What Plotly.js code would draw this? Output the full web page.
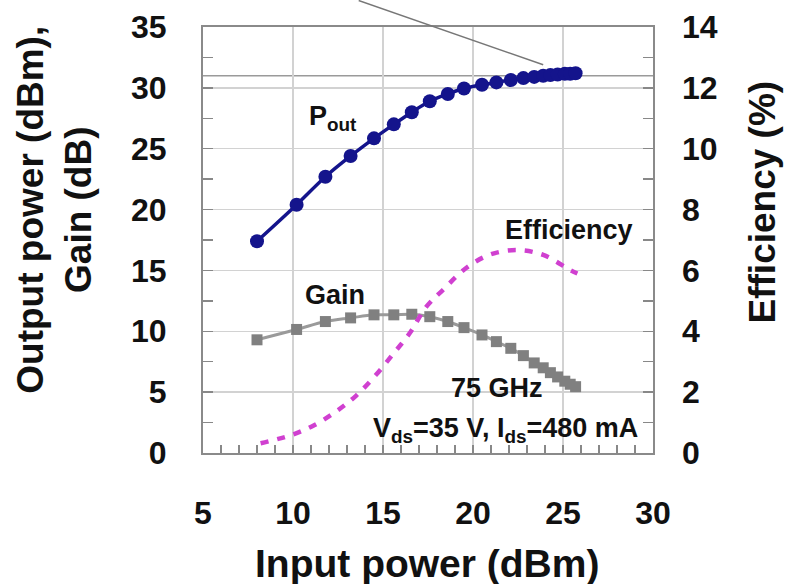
<!DOCTYPE html>
<html>
<head>
<meta charset="utf-8">
<script src="https://cdn.plot.ly/plotly-3.0.1.min.js"></script>
<style>html,body{margin:0;padding:0;background:#fff;}#chart{width:790px;height:584px;}</style>
</head>
<body>
<div id="chart"></div>
<script>
// Input power (dBm) for Pout and Gain
const pinX = [8.0, 10.2, 11.8, 13.2, 14.5, 15.6, 16.6, 17.6, 18.6, 19.5, 20.5, 21.3, 22.1, 22.8, 23.4, 23.9, 24.3, 24.7, 25.1, 25.4, 25.7];
// Output power (dBm)
const poutY = [17.4, 20.4, 22.7, 24.4, 25.85, 27.0, 28.0, 28.9, 29.5, 29.95, 30.25, 30.45, 30.65, 30.8, 30.9, 31.0, 31.05, 31.1, 31.15, 31.15, 31.2];
// Gain (dB)
const gainY = [9.3, 10.15, 10.8, 11.1, 11.35, 11.35, 11.4, 11.2, 10.8, 10.3, 9.7, 9.15, 8.6, 8.0, 7.4, 7.0, 6.6, 6.25, 5.9, 5.65, 5.45];
// Efficiency (%)
const effX = [8.2, 9.9, 11.2, 12.5, 13.5, 14.6, 15.6, 16.5, 17.4, 18.4, 19.6, 20.9, 22.4, 23.9, 25.4, 25.8];
const effY = [0.32, 0.59, 0.92, 1.41, 1.88, 2.56, 3.28, 3.95, 4.8, 5.4, 6.07, 6.51, 6.67, 6.51, 6.01, 5.9];

const psatLevel = 31.0;
const xTicks = [5, 10, 15, 20, 25, 30];

const FONT = 'Liberation Sans, Arial, Helvetica, sans-serif';
const tickFont = {family: FONT, size: 32, color: '#111', weight: 'bold'};
const annFont = {family: FONT, size: 27, color: '#111', weight: 'bold'};

const traces = [
  {
    x: pinX, y: poutY, type: 'scatter', mode: 'lines+markers',
    line: {color: '#14148c', width: 3.5, shape: 'spline'},
    marker: {symbol: 'circle', size: 14, color: '#14148c'},
    yaxis: 'y', showlegend: false, cliponaxis: false
  },
  {
    x: pinX, y: gainY, type: 'scatter', mode: 'lines+markers',
    line: {color: '#9a9a9a', width: 3, shape: 'spline'},
    marker: {symbol: 'square', size: 11, color: '#808080'},
    yaxis: 'y', showlegend: false
  },
  {
    x: effX, y: effY, type: 'scatter', mode: 'lines',
    line: {color: '#d040d0', width: 4.5, dash: '8px,9px', shape: 'spline'},
    yaxis: 'y2', showlegend: false
  }
];

const layout = {
  width: 790, height: 584,
  margin: {l: 203, r: 137, t: 27, b: 131},
  paper_bgcolor: '#fff', plot_bgcolor: '#fff',
  showlegend: false,
  xaxis: {
    range: [5, 30], tickvals: xTicks, ticktext: xTicks.map(String),
    ticks: 'inside', ticklen: 8, tickwidth: 1.5, tickcolor: '#888',
    minor: {dtick: 1, ticks: 'inside', ticklen: 8, tickwidth: 1.5, tickcolor: '#888', showgrid: false},
    showgrid: true, gridcolor: '#d2d2d2', gridwidth: 1.5,
    showline: true, linecolor: '#8a8a8a', linewidth: 2, mirror: true,
    zeroline: false, tickfont: tickFont, ticklabelstandoff: 31
  },
  yaxis: {
    range: [0, 35], dtick: 5,
    ticks: 'inside', ticklen: 10, tickwidth: 1.5, tickcolor: '#888',
    minor: {dtick: 2.5, ticks: 'inside', ticklen: 10, tickwidth: 1.5, tickcolor: '#888', showgrid: false},
    showgrid: true, gridcolor: '#d2d2d2', gridwidth: 1.5,
    showline: true, linecolor: '#8a8a8a', linewidth: 2, mirror: true,
    zeroline: false, tickfont: tickFont, ticklabelstandoff: 28
  },
  yaxis2: {
    range: [0, 14], dtick: 2, overlaying: 'y', side: 'right',
    ticks: 'inside', ticklen: 10, tickwidth: 1.5, tickcolor: '#888',
    minor: {dtick: 1, ticks: 'inside', ticklen: 10, tickwidth: 1.5, tickcolor: '#888', showgrid: false},
    showgrid: false, showline: false, zeroline: false,
    tickfont: tickFont, ticklabelstandoff: 28
  },
  shapes: [
    {type: 'line', xref: 'paper', x0: 0, x1: 1, yref: 'y', y0: psatLevel, y1: psatLevel,
     line: {color: '#9a9a9a', width: 1.5}, layer: 'below'}
  ],
  annotations: [
    {xref: 'paper', yref: 'paper', x: -0.33, y: 0.57, text: 'Output power (dBm),<br>Gain (dB)',
     textangle: -90, showarrow: false, font: {family: FONT, size: 37, color: '#111', weight: 'bold'},
     xanchor: 'center', yanchor: 'middle'},
    {xref: 'paper', yref: 'paper', x: 1.244, y: 0.59, text: 'Efficiency (%)',
     textangle: -90, showarrow: false, font: {family: FONT, size: 37, color: '#111', weight: 'bold'},
     xanchor: 'center', yanchor: 'middle'},
    {xref: 'paper', yref: 'paper', x: 0.498, y: -0.26, text: 'Input power (dBm)',
     showarrow: false, font: {family: FONT, size: 39, color: '#111', weight: 'bold'},
     xanchor: 'center', yanchor: 'middle'},
    {x: 12.2, y: 27.5, xref: 'x', yref: 'y', text: 'P<sub>out</sub>', showarrow: false, font: annFont},
    {x: 29.0, y: 18.3, xref: 'x', yref: 'y', text: 'Efficiency', showarrow: false, font: annFont, xanchor: 'right'},
    {x: 12.33, y: 13.0, xref: 'x', yref: 'y', text: 'Gain', showarrow: false, font: annFont},
    {x: 21.35, y: 5.34, xref: 'x', yref: 'y', text: '75 GHz', showarrow: false, font: annFont},
    {x: 29.3, y: 1.9, xref: 'x', yref: 'y', text: 'V<sub>ds</sub>=35 V, I<sub>ds</sub>=480 mA', showarrow: false, font: annFont, xanchor: 'right'},
    {x: 23.9, y: 31.9, xref: 'x', yref: 'y', text: '', showarrow: true, arrowhead: 0,
     arrowcolor: '#777', arrowwidth: 1.5, ax: -186, ay: -67, standoff: 0}
  ]
};

Plotly.newPlot('chart', traces, layout, {displayModeBar: false, staticPlot: true});
</script>
</body>
</html>
